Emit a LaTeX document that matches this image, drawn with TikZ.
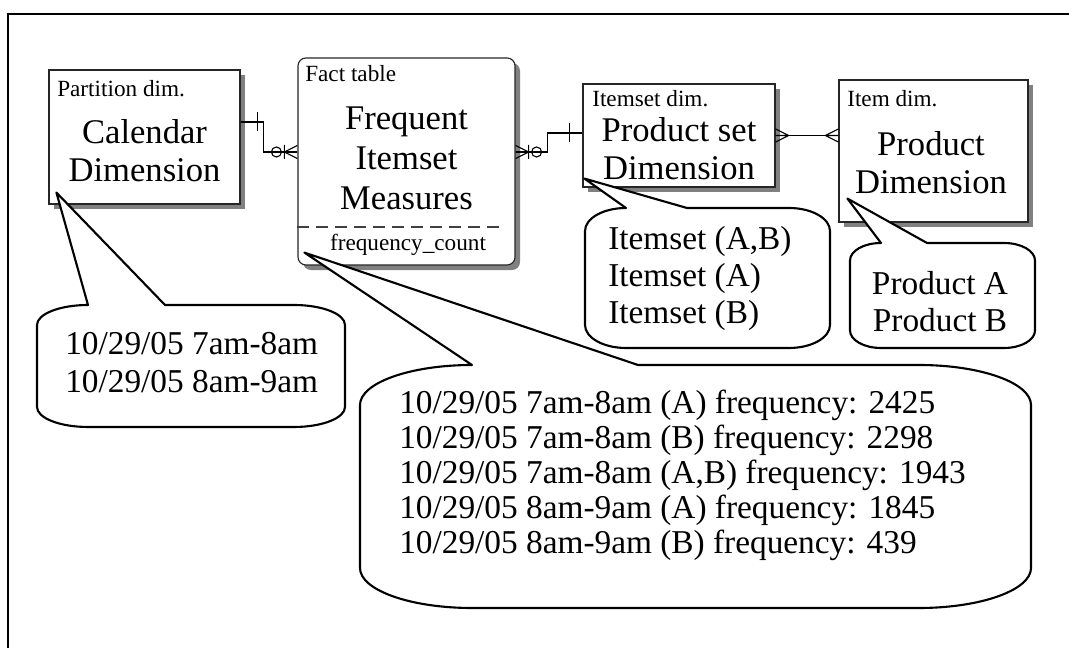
\documentclass[tikz,border=0pt]{standalone}
\usepackage{fontspec}
\setmainfont{Liberation Serif}
\usetikzlibrary{calc,shadows}

\begin{document}
\begin{tikzpicture}[x=0.025cm,y=0.025cm,
	entity/.style={draw=black!85,line width=0.8pt,fill=white,inner sep=0pt,
		drop shadow={shadow xshift=0.125cm,shadow yshift=-0.125cm,fill=black!50,opacity=1}},
	title/.style={font=\fontsize{24.6}{27}\selectfont,align=center,inner sep=0pt},
	tag/.style={font=\fontsize{16.5}{18}\selectfont,anchor=base west,inner sep=0pt},
	bubble/.style={draw,line width=1.5pt,fill=white,line join=round},
	bubtext/.style={align=left,inner sep=0pt,anchor=west},
	link/.style={line width=0.8pt},
	crow/.pic={\draw[link] (0,0) -- (13,6.5) (0,0) -- (13,0) (0,0) -- (13,-6.5);},
	zcrow/.pic={\draw[link] (0,0) -- (13,6.5) (0,0) -- (13,0) (0,0) -- (13,-6.5) (0,-7) -- (0,7); \draw[link] (-8,0) circle[radius=5];},
	onebar/.pic={\draw[link] (0,-9.5) -- (0,9.5);}]
	\useasboundingbox (0,0) rectangle (1069,648);
	\draw[line width=2.1pt] (8,0) -- (8,634) -- (1069,634); % cadre
	% les tables
	\node[entity,minimum width=4.775cm,minimum height=3.35cm] (cal) at (144.5,511) {};
	\node[entity,rounded corners=0.2cm,minimum width=5.425cm,minimum height=5.175cm] (fact) at (406.5,486.5) {};
	\node[entity,minimum width=4.8cm,minimum height=2.575cm] (pset) at (679,512.5) {};
	\node[entity,minimum width=4.725cm,minimum height=3.55cm] (prod) at (933.5,497) {};
	\node[tag] (caltag) at (57,551) {Partition dim.};
	\node[tag] (facttag) at (305,566) {Fact table};
	\node[tag] (psettag) at (592,541) {Itemset dim.};
	\node[tag] (prodtag) at (847,541) {Item dim.};
	\node[title] (caltitle) at (144.5,497) {Calendar\\Dimension};
	\node[title,font=\fontsize{24.6}{28.5}\selectfont] (facttitle) at (406.5,490) {Frequent\\Itemset\\Measures};
	\node[title] (psettitle) at (679,499) {Product set\\Dimension};
	\node[title] (prodtitle) at (931,485.5) {Product\\Dimension};
	\draw[black!75,line width=1.2pt,dash pattern=on 0.3cm off 0.175cm] ($(fact.west)+(0,-65.5)$) -- ++(209,0);
	\node[font=\fontsize{16.5}{18}\selectfont,inner sep=0pt] (measure) at (408,403) {frequency\_count};
	% les liens
	\draw[link] ($(cal.east)+(0,15)$) -- ++(23,0) |- ($(fact.west)+(0,9.5)$);
	\pic at ($(cal.east)+(17,15)$) {onebar};
	\pic at ($(fact.west)+(-13,9.5)$) {zcrow};
	\draw[link] ($(fact.east)+(0,9.5)$) -- ++(32,0) |- ($(pset.west)+(0,2.5)$);
	\pic[rotate=180] at ($(fact.east)+(13,9.5)$) {zcrow};
	\pic at ($(pset.west)+(-13,2.5)$) {onebar};
	\draw[link] (pset.east) -- (pset.east -| prod.west);
	\pic[rotate=180] at ($(pset.east)+(13,0)$) {crow};
	\pic at ($(pset.east -| prod.west)+(-13,0)$) {crow};
	% les bulles
	\draw[bubble] (472,283) -- ($(fact.south west)+(7,13)$) -- (638,283) -- (919,283) arc[start angle=90,end angle=0,x radius=112,y radius=40] -- (1031,80) arc[start angle=0,end angle=-90,x radius=112,y radius=40] -- (472,40) arc[start angle=270,end angle=180,x radius=112,y radius=40] -- (360,243) arc[start angle=180,end angle=90,x radius=112,y radius=40] -- cycle;
	\draw[bubble] (88,343) -- ($(cal.south west)+(8,12)$) -- (165,343) -- (294,343) arc[start angle=90,end angle=0,x radius=51,y radius=20] -- (345,241) arc[start angle=0,end angle=-90,x radius=51,y radius=20] -- (88,221) arc[start angle=270,end angle=180,x radius=51,y radius=20] -- (37,323) arc[start angle=180,end angle=90,x radius=51,y radius=20] -- cycle;
	\draw[bubble] (626,440) -- ($(pset.south west)+(2,9)$) -- (687,440) -- (789,440) arc[start angle=90,end angle=0,x radius=41,y radius=23] -- (830,323) arc[start angle=0,end angle=-90,x radius=41,y radius=23] -- (626,300) arc[start angle=270,end angle=180,x radius=41,y radius=23] -- (585,417) arc[start angle=180,end angle=90,x radius=41,y radius=23] -- cycle;
	\draw[bubble] (881,405) -- ($(prod.south west)+(9,24)$) -- (927,405) -- (1004,405) arc[start angle=90,end angle=0,x radius=31,y radius=17.5] -- (1035,317.5) arc[start angle=0,end angle=-90,x radius=31,y radius=17.5] -- (881,300) arc[start angle=270,end angle=180,x radius=31,y radius=17.5] -- (850,387.5) arc[start angle=180,end angle=90,x radius=31,y radius=17.5] -- cycle;
	\node[bubtext,font=\fontsize{23.7}{27}\selectfont] (caltimes) at (65,285.5) {10/29/05 7am-8am\\10/29/05 8am-9am};
	\node[bubtext,font=\fontsize{23.7}{24.9}\selectfont] (counts) at (399,173) {10/29/05 7am-8am (A) frequency: 2425\\10/29/05 7am-8am (B) frequency: 2298\\10/29/05 7am-8am (A,B) frequency: 1943\\10/29/05 8am-9am (A) frequency: 1845\\10/29/05 8am-9am (B) frequency: 439};
	\node[bubtext,font=\fontsize{23.7}{26.3}\selectfont] (itemsets) at (608,369.5) {Itemset (A,B)\\Itemset (A)\\Itemset (B)};
	\node[align=center,inner sep=0pt,font=\fontsize{23.7}{26.3}\selectfont] (products) at (940,346.5) {Product A\\Product B};
\end{tikzpicture}
\end{document}
